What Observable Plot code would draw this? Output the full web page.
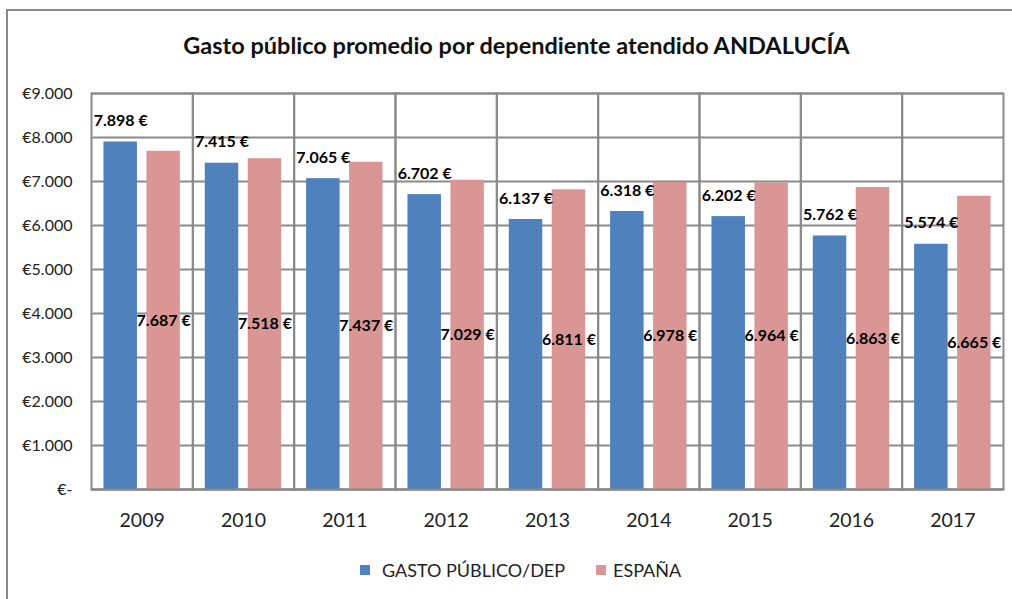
<!DOCTYPE html>
<html>
<head>
<meta charset="utf-8">
<script src="https://cdn.jsdelivr.net/npm/d3@7"></script>
<script src="https://cdn.jsdelivr.net/npm/@observablehq/plot@0.6"></script>
<style>
  html, body { margin: 0; padding: 0; background: #fff; }
  #wrap { position: relative; width: 1012px; height: 599px; overflow: hidden; background: #fff; font-family: Lato, "Open Sans", sans-serif; }
  #border { position: absolute; left: 6px; top: 9px; width: 1100px; height: 700px; border: 2px solid #8a8a8a; box-sizing: border-box; pointer-events: none; }
  #title { position: absolute; left: 0; width: 1033px; top: 31px; text-align: center; font-weight: bold; font-size: 23.5px; color: #111; white-space: nowrap; }
  .sw { position: absolute; width: 10px; height: 10px; top: 565px; }
  .lt { position: absolute; top: 559px; font-size: 18px; color: #222; white-space: nowrap; line-height: 22px; }
  #chart { position: absolute; left: 0; top: 0; }
</style>
</head>
<body>
<div id="wrap">
  <div id="chart"></div>
  <div id="border"></div>
  <div id="title"></div>
  <div class="sw" id="sw0" style="left:360px;"></div>
  <div class="lt" id="lt0" style="left:382px;"></div>
  <div class="sw" id="sw1" style="left:596px;"></div>
  <div class="lt" id="lt1" style="left:613px;"></div>
</div>
<script>
const title = "Gasto público promedio por dependiente atendido ANDALUCÍA";
const years = ["2009","2010","2011","2012","2013","2014","2015","2016","2017"];
const seriesNames = ["GASTO PÚBLICO/DEP", "ESPAÑA"];
const gastoPublico = [7898, 7415, 7065, 6702, 6137, 6318, 6202, 5762, 5574];
const espana = [7687, 7518, 7437, 7029, 6811, 6978, 6964, 6863, 6665];
const yTicks = [0, 1000, 2000, 3000, 4000, 5000, 6000, 7000, 8000, 9000];
const colors = ["#4F81BD", "#D99694"];

const data = [];
years.forEach((y, i) => {
  data.push({year: y, series: seriesNames[0], value: gastoPublico[i]});
  data.push({year: y, series: seriesNames[1], value: espana[i]});
});

const thousands = v => d3.format(",")(v).replace(/,/g, ".");
const yFmt = v => v === 0 ? "€-" : "€" + thousands(v);
const lblFmt = v => thousands(v) + " €";

document.getElementById("title").textContent = title;
document.getElementById("sw0").style.background = colors[0];
document.getElementById("sw1").style.background = colors[1];
document.getElementById("lt0").textContent = seriesNames[0];
document.getElementById("lt1").textContent = seriesNames[1];

const grid = "#8a8a8a";
const chart = Plot.plot({
  width: 1012,
  height: 599,
  marginLeft: 91,
  marginRight: 9,
  marginTop: 93,
  marginBottom: 110,
  style: {background: "none", fontFamily: "Lato, 'Open Sans', sans-serif", color: "#222"},
  fx: {domain: years, padding: 0, round: false, label: null},
  x: {domain: seriesNames, paddingInner: 0.22, paddingOuter: 0.29, round: false, axis: null},
  y: {domain: [0, 9000], label: null},
  color: {domain: seriesNames, range: colors},
  marks: [
    Plot.gridY(yTicks, {stroke: grid, strokeOpacity: 1, strokeWidth: 2}),
    Plot.frame({stroke: grid, strokeWidth: 2}),
    Plot.barY(data, {fx: "year", x: "series", y: "value", fill: "series"}),
    Plot.ruleY([0], {stroke: grid, strokeWidth: 2}),
    Plot.axisY(yTicks, {tickFormat: yFmt, tickSize: 0, tickPadding: 19, fontSize: 16, fill: "#222", label: null}),
    Plot.axisFx({anchor: "bottom", tickSize: 0, tickPadding: 24, fontSize: 19.5, fill: "#222", label: null}),
    Plot.text(data.filter(d => d.series === seriesNames[0]), {fx: "year", x: "series", y: "value", text: d => lblFmt(d.value), dy: -21, fontSize: 16, fontWeight: "bold", fill: "#000"}),
    Plot.text(data.filter(d => d.series === seriesNames[1]), {fx: "year", x: "series", y: d => d.value / 2, text: d => lblFmt(d.value), fontSize: 16, fontWeight: "bold", fill: "#000"})
  ]
});
document.getElementById("chart").appendChild(chart);
</script>
</body>
</html>
